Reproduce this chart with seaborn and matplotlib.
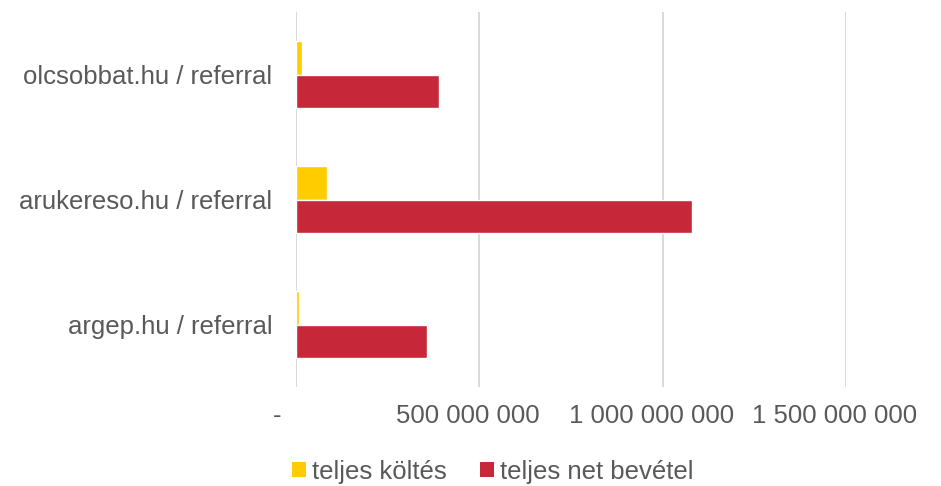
import numpy as np
import pandas as pd
import matplotlib
matplotlib.use("Agg")
import matplotlib.pyplot as plt
import matplotlib.transforms as mtransforms
from matplotlib.patches import Patch
import seaborn as sns

CATEGORIES = ["olcsobbat.hu / referral", "arukereso.hu / referral", "argep.hu / referral"]
SERIES = ["teljes költés", "teljes net bevétel"]
KOLTES = [15_000_000, 85_000_000, 7_000_000]
BEVETEL = [391_000_000, 1_081_000_000, 357_000_000]
X_TICKS = [0, 500_000_000, 1_000_000_000, 1_500_000_000]
X_LABELS = ["-", "500 000 000", "1 000 000 000", "1 500 000 000"]
COLORS = ["#FFCC00", "#C62839"]
TEXT_COLOR = "#595959"
FS = 18.5

df = pd.DataFrame({
    "kategoria": CATEGORIES * 2,
    "sorozat": [SERIES[0]] * 3 + [SERIES[1]] * 3,
    "ertek": KOLTES + BEVETEL,
})

sns.set_theme(style="white")
plt.rcParams["font.family"] = ["Liberation Sans", "DejaVu Sans"]

fig = plt.figure(figsize=(9.41, 4.86), dpi=100)
ax = fig.add_axes([296 / 941, 1 - 387 / 486, 550 / 941, 375 / 486])

sns.barplot(
    data=df, x="ertek", y="kategoria", hue="sorozat",
    order=CATEGORIES, hue_order=SERIES, palette=COLORS,
    orient="h", width=0.53, saturation=1, ax=ax, legend=False,
)

ax.set_xlim(0, 1_500_000_000)
ax.set_xticks(X_TICKS)
ax.set_xticklabels(X_LABELS)
ax.grid(axis="x", color="#D9D9D9", linewidth=1.4)
ax.set_axisbelow(True)
for s in ax.spines.values():
    s.set_visible(False)
ax.set_xlabel("")
ax.set_ylabel("")
ax.tick_params(axis="x", length=0, pad=12, labelsize=FS, labelcolor=TEXT_COLOR)
ax.tick_params(axis="y", length=0, pad=17, labelsize=FS, labelcolor=TEXT_COLOR)

# excel-style accounting format pads labels on the right
shifts = [-19, -12, -11, -11]
for lbl, dx in zip(ax.get_xticklabels(), shifts):
    lbl.set_transform(lbl.get_transform() + mtransforms.ScaledTranslation(dx / 100, 0, fig.dpi_scale_trans))

handles = [Patch(facecolor=c, edgecolor="none") for c in COLORS]
leg = fig.legend(
    handles, SERIES, loc="center", bbox_to_anchor=(493 / 941, 1 - 472 / 486),
    ncol=2, frameon=False, fontsize=FS, handlelength=0.52, handleheight=0.52,
    handletextpad=0.25, columnspacing=1.3, borderpad=0,
)
for t in leg.get_texts():
    t.set_color(TEXT_COLOR)

fig.savefig("out.png", dpi=100)
